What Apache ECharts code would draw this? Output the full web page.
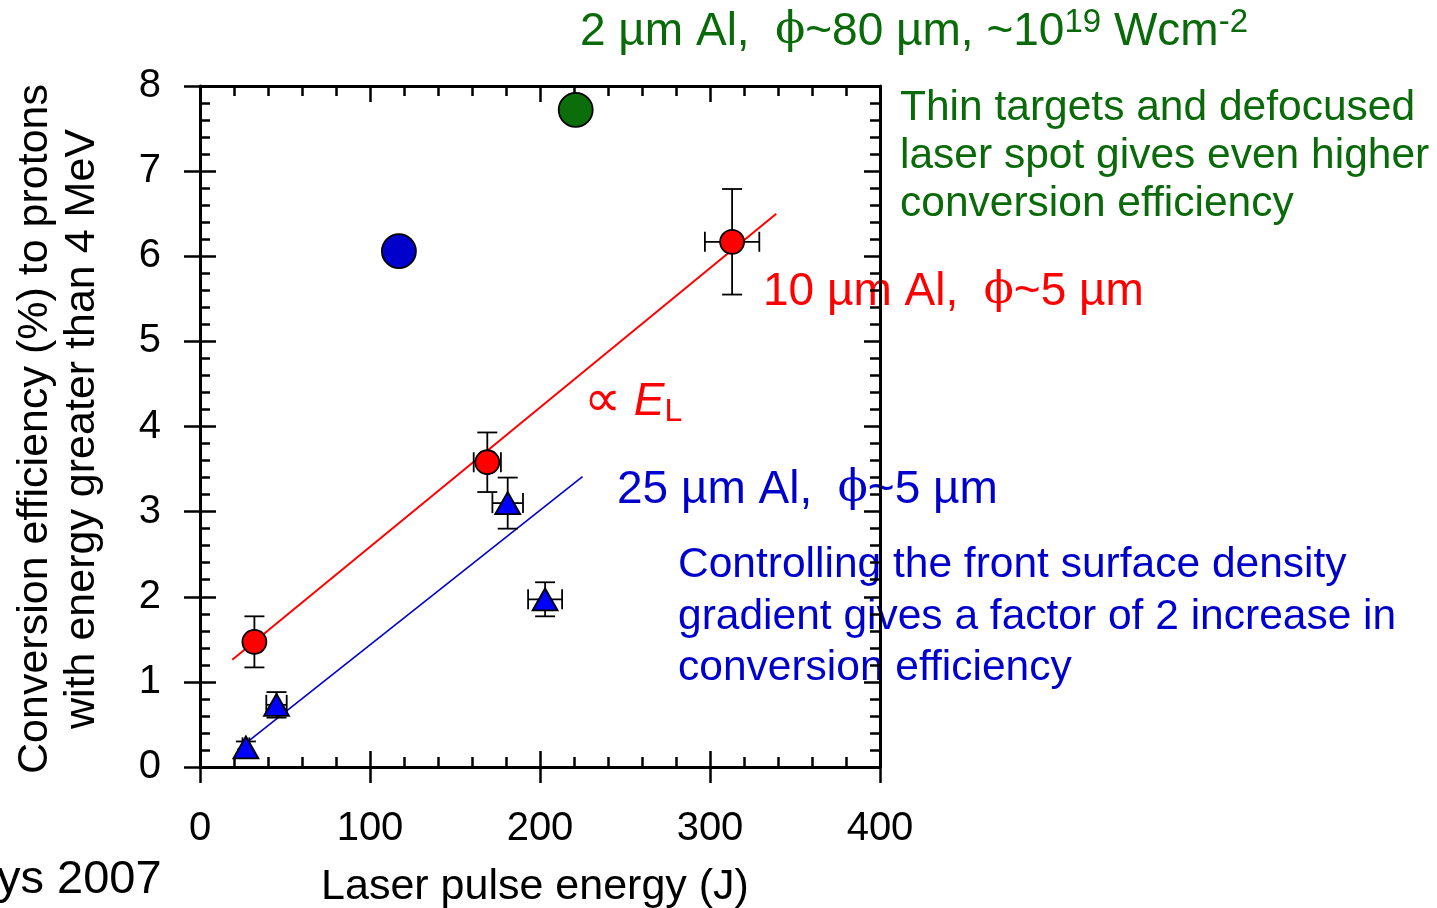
<html>
<head>
<meta charset="utf-8">
<title>Conversion efficiency</title>
<script src="https://cdn.jsdelivr.net/npm/echarts@6/dist/echarts.min.js"></script>
<style>
  html, body { margin: 0; padding: 0; background: #fff; }
  #chart { width: 1437px; height: 908px; }
</style>
</head>
<body>
<div id="chart"></div>
<script>
// data
var xTicks = [0, 100, 200, 300, 400];
var yTicks = [0, 1, 2, 3, 4, 5, 6, 7, 8];

// 10 um Al, phi~5 um (red circles)
var redX = [32, 169, 313];
var redY = [1.47, 3.58, 6.17];
var redXErr = [0, 8, 16];
var redYErr = [0.30, 0.35, 0.62];

// 25 um Al, phi~5 um (blue triangles)
var triX = [27, 45, 181, 203];
var triY = [0.23, 0.73, 3.10, 1.97];
var triXErr = [2, 6, 9, 10];
var triYErr = [0.07, 0.15, 0.30, 0.20];

// other shots
var bigBlue = [[117, 6.06]];
var bigGreen = [[221, 7.72]];

// fit lines (end points)
var redFit = [[19, 1.26], [339, 6.50]];
var blueFit = [[22, 0.20], [225, 3.41]];

var FONT = '"Liberation Sans", Arial, sans-serif';
var SERIF = '"DejaVu Serif", serif';
var GREEN = '#0a6a0a';
var BLUE = '#0000cc';
var RED = '#ff0000';

function errRows(xs, ys, xe, ye) {
  var out = [];
  for (var i = 0; i < xs.length; i++) {
    out.push([xs[i], ys[i], xs[i] - xe[i], xs[i] + xe[i], ys[i] - ye[i], ys[i] + ye[i]]);
  }
  return out;
}
function pts(xs, ys) {
  return xs.map(function (x, i) { return [x, ys[i]]; });
}

function renderErr(params, api) {
  var x = api.value(0), y = api.value(1);
  var xl = api.value(2), xh = api.value(3), yl = api.value(4), yh = api.value(5);
  var st = { stroke: '#000', lineWidth: 1.8 };
  var cap = 10;
  var kids = [];
  if (yl !== yh) {
    var a = api.coord([x, yl]), b = api.coord([x, yh]);
    kids.push({ type: 'line', shape: { x1: a[0], y1: a[1], x2: b[0], y2: b[1] }, style: st });
    kids.push({ type: 'line', shape: { x1: a[0] - cap, y1: a[1], x2: a[0] + cap, y2: a[1] }, style: st });
    kids.push({ type: 'line', shape: { x1: b[0] - cap, y1: b[1], x2: b[0] + cap, y2: b[1] }, style: st });
  }
  if (xl !== xh) {
    var c = api.coord([xl, y]), d = api.coord([xh, y]);
    kids.push({ type: 'line', shape: { x1: c[0], y1: c[1], x2: d[0], y2: d[1] }, style: st });
    kids.push({ type: 'line', shape: { x1: c[0], y1: c[1] - cap, x2: c[0], y2: c[1] + cap }, style: st });
    kids.push({ type: 'line', shape: { x1: d[0], y1: d[1] - cap, x2: d[0], y2: d[1] + cap }, style: st });
  }
  return { type: 'group', children: kids };
}

var axLine = { show: true, onZero: false, lineStyle: { color: '#000', width: 3 } };
var noLine = { show: false, onZero: false };
function xAx(pos, opts) {
  return Object.assign({
    type: 'value', position: pos, min: 0, max: 400, interval: 100,
    splitLine: { show: false }, axisLabel: { show: false }
  }, opts);
}
function yAx(pos, opts) {
  return Object.assign({
    type: 'value', position: pos, min: 0, max: 8, interval: 1,
    splitLine: { show: false }, axisLabel: { show: false }
  }, opts);
}
var tickIn = { show: true, inside: true, length: 16, lineStyle: { color: '#000', width: 2.5 } };
var tickOut = { show: true, inside: false, length: 16, lineStyle: { color: '#000', width: 2.5 } };
var minor = { show: true, splitNumber: 5, length: 10, lineStyle: { color: '#000', width: 2.5 } };

var chart = echarts.init(document.getElementById('chart'));
var option = {
  backgroundColor: '#fff',
  animation: false,
  grid: { left: 200, top: 86, width: 680, height: 681 },
  xAxis: [
    xAx('bottom', {
      axisLine: axLine, axisTick: tickOut, minorTick: { show: false },
      axisLabel: { show: true, fontSize: 40, fontFamily: FONT, color: '#000', margin: 42,
        formatter: function (v) { return xTicks.indexOf(v) >= 0 ? String(v) : ''; } }
    }),
    xAx('bottom', { axisLine: noLine, axisTick: tickIn, minorTick: minor }),
    xAx('top', { axisLine: axLine, axisTick: tickIn, minorTick: minor })
  ],
  yAxis: [
    yAx('left', {
      axisLine: axLine, axisTick: tickOut, minorTick: { show: false },
      axisLabel: { show: true, fontSize: 40, fontFamily: FONT, color: '#000', margin: 39,
        padding: [6, 0, 0, 0],
        formatter: function (v) { return yTicks.indexOf(v) >= 0 ? String(v) : ''; } }
    }),
    yAx('left', { axisLine: noLine, axisTick: tickIn, minorTick: minor }),
    yAx('right', { axisLine: axLine, axisTick: tickIn, minorTick: minor })
  ],
  series: [
    { type: 'line', data: redFit, symbol: 'none', lineStyle: { color: RED, width: 2 }, z: 2 },
    { type: 'line', data: blueFit, symbol: 'none', lineStyle: { color: BLUE, width: 1.6 }, z: 2 },
    { type: 'custom', data: errRows(redX, redY, redXErr, redYErr), renderItem: renderErr, z: 3 },
    { type: 'custom', data: errRows(triX, triY, triXErr, triYErr), renderItem: renderErr, z: 3 },
    { type: 'scatter', data: pts(redX, redY), symbol: 'circle', symbolSize: 24,
      itemStyle: { color: RED, borderColor: '#000', borderWidth: 1.8, opacity: 1 }, z: 4 },
    { type: 'scatter', data: pts(triX, triY), symbol: 'triangle', symbolSize: [25, 22],
      itemStyle: { color: '#0000ff', borderColor: '#000', borderWidth: 1.8, opacity: 1 }, z: 4 },
    { type: 'scatter', data: bigBlue, symbol: 'circle', symbolSize: 34,
      itemStyle: { color: BLUE, borderColor: '#000', borderWidth: 1.8, opacity: 1 }, z: 4 },
    { type: 'scatter', data: bigGreen, symbol: 'circle', symbolSize: 34,
      itemStyle: { color: '#0b6e0b', borderColor: '#000', borderWidth: 1.8, opacity: 1 }, z: 4 }
  ],
  graphic: [
    { type: 'text', x: 580, y: 32, style: {
        text: '2 µm Al,  {phi|ϕ}~80 µm, ~10{sup|19} Wcm{sup|-2}',
        font: '46px ' + FONT, fill: GREEN, textVerticalAlign: 'middle',
        rich: { phi: { fontFamily: SERIF, fontSize: 44, fill: GREEN },
                sup: { fontSize: 33, fill: GREEN, verticalAlign: 'top', padding: [0, 0, 18, 0] } } } },
    { type: 'text', x: 900, y: 84, style: {
        text: 'Thin targets and defocused\nlaser spot gives even higher\nconversion efficiency',
        font: '42.5px ' + FONT, fill: GREEN, lineHeight: 48, textVerticalAlign: 'top' } },
    { type: 'text', x: 763, y: 292, style: {
        text: '10 µm Al,  {phi|ϕ}~5 µm', font: '46px ' + FONT, fill: RED, textVerticalAlign: 'middle',
        rich: { phi: { fontFamily: SERIF, fontSize: 44, fill: RED } } } },
    { type: 'text', x: 584, y: 402, style: {
        text: '{p|∝} {e|E}{sub|L}', font: '46px ' + FONT, fill: RED, textVerticalAlign: 'middle',
        rich: { p: { fontSize: 52, fill: RED },
                e: { fontStyle: 'italic', fontSize: 46, fill: RED },
                sub: { fontSize: 32, fill: RED, verticalAlign: 'bottom', padding: [16, 0, 0, 0] } } } },
    { type: 'text', x: 617, y: 490, style: {
        text: '25 µm Al,  {phi|ϕ}~5 µm', font: '46px ' + FONT, fill: BLUE, textVerticalAlign: 'middle',
        rich: { phi: { fontFamily: SERIF, fontSize: 44, fill: BLUE } } } },
    { type: 'text', x: 678, y: 540, style: {
        text: 'Controlling the front surface density\ngradient gives a factor of 2 increase in\nconversion efficiency',
        font: '42.5px ' + FONT, fill: BLUE, lineHeight: 51.5, textVerticalAlign: 'top' } },
    { type: 'text', x: 535, y: 887, style: {
        text: 'Laser pulse energy (J)', font: '43px ' + FONT, fill: '#000',
        textAlign: 'center', textVerticalAlign: 'middle' } },
    { type: 'text', x: -3, y: 880, style: {
        text: 'ys 2007', font: '47px ' + FONT, fill: '#000', textVerticalAlign: 'middle' } },
    { type: 'text', x: 59, y: 429, rotation: Math.PI / 2, style: {
        text: 'Conversion efficiency (%) to protons\nwith energy greater than 4 MeV',
        font: '43px ' + FONT, fill: '#000', lineHeight: 47,
        textAlign: 'center', textVerticalAlign: 'middle' } }
  ]
};
chart.setOption(option);
</script>
</body>
</html>
